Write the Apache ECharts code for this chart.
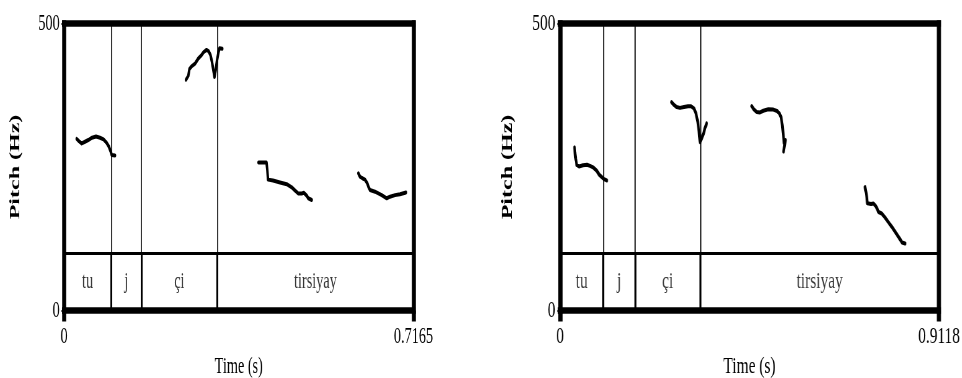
<!DOCTYPE html>
<html>
<head>
<meta charset="UTF-8">
<title>Pitch: tu j çi tirsiyay</title>
<script src="https://cdn.jsdelivr.net/npm/echarts@6/dist/echarts.min.js"></script>
<style>
  * { margin: 0; padding: 0; box-sizing: border-box; }
  body { width: 962px; height: 378px; background: #fff; overflow: hidden; position: relative; }
  .panel { position: absolute; top: 0; height: 378px; transform-origin: 0 0; }
</style>
</head>
<body>
<div id="left" class="panel"></div>
<div id="right" class="panel"></div>
<script>
// shared
const pitchMax = 500;
const tierTop = 100;   // Hz level where the text tier begins
const tierLabels = ['tu', 'j', 'çi', 'tirsiyay'];

// left recording
const dur1 = 0.7165;
const bounds1 = [0.0968, 0.1585, 0.3143];
const p1Tu = [[0.026,299],[0.0308,295],[0.0363,291],[0.043,294],[0.0498,297],[0.0574,301],[0.0656,303],[0.0738,301],[0.081,298],[0.0875,292],[0.0923,285],[0.0953,278],[0.0978,271],[0.1046,270]];
const p1Ci = [[0.2501,402],[0.2548,409],[0.2573,421],[0.2624,426],[0.2686,430],[0.2753,439],[0.2809,444],[0.286,450],[0.2921,454],[0.2962,452],[0.3003,445],[0.3034,433],[0.3065,417],[0.3085,407],[0.311,419],[0.3137,436],[0.3167,450],[0.3188,457],[0.3245,456]];
const p1TirA = [[0.3988,258],[0.4151,258],[0.4168,245],[0.4182,228],[0.4285,226.5],[0.4428,223],[0.4566,220],[0.4668,214.6],[0.4736,209],[0.4803,204],[0.4873,204],[0.492,205],[0.4976,200],[0.5008,195.5],[0.5078,192.5]];
const p1TirB = [[0.6034,239],[0.6068,233],[0.6124,230],[0.6171,228],[0.6218,221.6],[0.6243,215],[0.6273,210],[0.6376,207],[0.6513,201],[0.6616,195.5],[0.6683,198.3],[0.6786,201],[0.6888,202.4],[0.7011,205.6]];

// right recording
const dur2 = 0.9118;
const bounds2 = [0.1042, 0.1804, 0.3375];
const p2Tu = [[0.0349,284],[0.0361,274],[0.0378,264],[0.0402,253.5],[0.0457,251],[0.0553,253],[0.065,254],[0.0722,252],[0.0794,249.5],[0.0878,244],[0.0938,237],[0.1003,232.6],[0.1059,229],[0.1124,226.5]];
const p2Ci = [[0.2682,363],[0.2731,359],[0.2803,354.5],[0.2887,353],[0.2983,354.5],[0.308,356],[0.3152,356],[0.3224,352],[0.3272,343],[0.3313,329],[0.3344,312],[0.3368,293],[0.3409,300],[0.3452,308],[0.3488,318],[0.3529,326]];
const p2TirA = [[0.4612,356],[0.4667,350],[0.4732,346],[0.4811,345],[0.4891,348],[0.5011,350.5],[0.5132,350],[0.522,347.6],[0.5281,343],[0.5317,337],[0.5348,323],[0.5372,306],[0.5389,292],[0.5425,297],[0.5377,277]];
const p2TirB = [[0.7338,215],[0.7362,206],[0.7379,198],[0.7394,187],[0.7482,185.5],[0.7542,186.4],[0.7595,182],[0.7638,176],[0.7662,171.6],[0.774,169],[0.7819,162],[0.7899,154],[0.798,146],[0.806,137.3],[0.8139,128.6],[0.8192,122.8],[0.8228,118.5],[0.83,116.7]];

const FONT = '"Liberation Serif", "Times New Roman", serif';
const BORDER = 6.5;

function drawPanel(id, pageLeft, pageWidth, squash, frameLeft, frameWidth, dur, bounds, curves) {
  const el = document.getElementById(id);
  el.style.left = pageLeft + 'px';
  el.style.width = (pageWidth / squash) + 'px';
  el.style.transform = 'scaleX(' + squash + ')';
  const chart = echarts.init(el);

  const edges = [0].concat(bounds, [dur]);
  const labels = tierLabels.map((name, i) => ({ name, value: [(edges[i] + edges[i + 1]) / 2, tierTop / 2] }));
  const lines = [[{ coord: [0, tierTop] }, { coord: [dur, tierTop], lineStyle: { width: 3 } }]];
  bounds.forEach(b => {
    lines.push([{ coord: [b, 0] }, { coord: [b, tierTop], lineStyle: { width: 3 } }]);
    lines.push([{ coord: [b, tierTop] }, { coord: [b, pitchMax], lineStyle: { width: 1.6 } }]);
  });

  const frameLine = { onZero: false, lineStyle: { color: '#000', width: BORDER, cap: 'square' } };
  const txt = { color: '#000', fontFamily: FONT, fontSize: 23 };

  chart.setOption({
    animation: false,
    grid: { left: (frameLeft - pageLeft) / squash, width: frameWidth / squash, top: 23.5, height: 287,
            outerBoundsMode: 'none' },
    xAxis: [
      { type: 'value', min: 0, max: dur, interval: dur, position: 'bottom',
        axisLine: frameLine,
        axisTick: { length: 11, lineStyle: { color: '#000', width: BORDER } },
        axisLabel: Object.assign({ margin: 15, formatter: v => String(+v.toFixed(4)) }, txt),
        splitLine: { show: false },
        name: 'Time (s)', nameLocation: 'middle', nameGap: 45, nameTextStyle: txt },
      { type: 'value', min: 0, max: dur, position: 'top',
        axisLine: frameLine, axisTick: { show: false }, axisLabel: { show: false }, splitLine: { show: false } }
    ],
    yAxis: [
      { type: 'value', min: 0, max: pitchMax, interval: pitchMax, position: 'left',
        axisLine: frameLine,
        axisTick: { length: 4, lineStyle: { color: '#000', width: 2 } },
        axisLabel: Object.assign({ margin: 7 }, txt),
        splitLine: { show: false },
        name: 'Pitch (Hz)', nameLocation: 'middle', nameGap: 66,
        nameTextStyle: Object.assign({}, txt, { fontSize: 24, fontWeight: 'bold' }) },
      { type: 'value', min: 0, max: pitchMax, position: 'right',
        axisLine: frameLine, axisTick: { show: false }, axisLabel: { show: false }, splitLine: { show: false } }
    ],
    series: [
      { type: 'scatter', data: labels, symbolSize: 1, itemStyle: { color: 'transparent' }, silent: true,
        label: Object.assign({ show: true, position: 'inside', formatter: '{b}' }, txt),
        markLine: { silent: true, symbol: ['none', 'none'], label: { show: false },
          lineStyle: { color: '#000', type: 'solid' }, data: lines } }
    ].concat(curves.map(c => ({
      type: 'line', data: c, symbol: 'none', silent: true,
      lineStyle: { color: '#000', width: 4, cap: 'round', join: 'round' }
    })))
  });
}

drawPanel('left', 0, 481, 0.62, 64, 349.5, dur1, bounds1, [p1Tu, p1Ci, p1TirA, p1TirB]);
drawPanel('right', 481, 481, 0.67, 560, 379, dur2, bounds2, [p2Tu, p2Ci, p2TirA, p2TirB]);
</script>
</body>
</html>
